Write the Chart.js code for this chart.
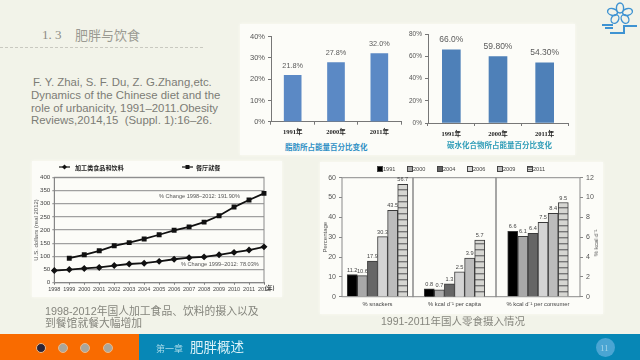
<!DOCTYPE html>
<html>
<head>
<meta charset="utf-8">
<title>1.3 肥胖与饮食</title>
<script src="https://cdn.jsdelivr.net/npm/chart.js"></script>
<style>
html, body { margin: 0; padding: 0; }
body { width: 640px; height: 360px; overflow: hidden; position: relative; background: #f2f3e9;
       font-family: "Liberation Sans", "Noto Sans CJK SC", sans-serif; }
.box { position: absolute; background: #fcfcf8; box-shadow: 0 0 3px #fbfbf5; }
canvas { position: absolute; }
.t { position: absolute; white-space: pre; line-height: 1; transform: translateY(-50%); }
.cn { font-family: "Noto Sans CJK SC", sans-serif; }
.rot { transform: translate(-50%, -50%) rotate(-90deg); }
.dot { position: absolute; width: 10px; height: 10px; border-radius: 50%; top: 342.5px; box-sizing: border-box; border: 1px solid #e9b98c; background: #a9a69c; }
</style>
</head>
<body>
<div class="box" style="left:240px;top:24px;width:335px;height:131px"></div>
<div class="box" style="left:32px;top:161px;width:250px;height:136px"></div>
<div class="box" style="left:320px;top:162px;width:283px;height:152px"></div>

<div class="t" style="left:42px;top:34px;font-size:13px;color:#8d8d85;font-family:'Liberation Serif','Noto Sans CJK SC'">1. 3</div>
<div class="t cn" style="left:75px;top:34px;font-size:13px;color:#9a9a92">肥胖与饮食</div>
<div style="position:absolute;left:0;top:47px;width:203px;border-top:1px dashed #c9c9c0"></div>

<div class="t" style="left:33px;top:83px;font-size:11.4px;color:#7c7c76">F. Y. Zhai, S. F. Du, Z. G.Zhang,etc.</div>
<div class="t" style="left:31px;top:96px;font-size:11.4px;color:#7c7c76">Dynamics of the Chinese diet and the</div>
<div class="t" style="left:31px;top:109px;font-size:11.4px;color:#7c7c76">role of urbanicity, 1991–2011.Obesity</div>
<div class="t" style="left:31px;top:121px;font-size:11.4px;color:#7c7c76">Reviews,2014,15  (Suppl. 1):16–26.</div>

<svg style="position:absolute;left:600px;top:0" width="40" height="38" viewBox="0 0 40 38" fill="none" stroke="#3f93d2" stroke-width="1.4">
  <ellipse cx="20" cy="8" rx="3.6" ry="5"/>
  <ellipse cx="12.5" cy="12" rx="5" ry="3.4" transform="rotate(15 12.5 12)"/>
  <ellipse cx="27.5" cy="12" rx="5" ry="3.4" transform="rotate(-15 27.5 12)"/>
  <ellipse cx="15" cy="19" rx="3.6" ry="4.6" transform="rotate(30 15 19)"/>
  <ellipse cx="25" cy="19" rx="3.6" ry="4.6" transform="rotate(-30 25 19)"/>
  <path d="M2 25H13M5 28H13M10 33H24V26H37" stroke-width="2"/>
</svg>

<canvas id="fatChart" width="165" height="115" style="left:240px;top:25px"></canvas>
<canvas id="carbChart" width="175" height="115" style="left:400px;top:25px"></canvas>
<div class="t cn" style="left:285px;top:147px;font-size:7.5px;color:#2f8fc4;font-weight:700">脂肪所占能量百分比变化</div>
<div class="t cn" style="left:447px;top:145px;font-size:7.5px;color:#2f9db8;font-weight:700">碳水化合物所占能量百分比变化</div>

<canvas id="foodChart" width="294" height="137" style="left:1px;top:160px"></canvas>
<div id="foodLegend"></div>
<div class="t" style="left:159px;top:196.7px;font-size:5.6px;color:#555">% Change 1998–2012: 191.90%</div>
<div class="t" style="left:181px;top:265px;font-size:5.6px;color:#555">% Change 1999–2012: 78.03%</div>
<div class="t cn" style="left:265px;top:288.5px;font-size:5.5px;font-weight:700;color:#333">(年)</div>

<canvas id="snackChart1" width="108" height="150" style="left:310px;top:165px"></canvas>
<canvas id="snackChart2" width="91" height="150" style="left:409px;top:165px"></canvas>
<canvas id="snackChart3" width="120" height="150" style="left:490px;top:165px"></canvas>
<div id="snackLegend"></div>
<div class="t rot" style="left:596px;top:243px;font-size:6px;color:#555">% kcal d⁻¹</div>

<div class="t" style="left:45px;top:311px;font-size:10.8px;color:#85857d">1998-2012年国人加工食品、饮料的摄入以及</div>
<div class="t" style="left:45px;top:323px;font-size:10.8px;color:#85857d">到餐馆就餐大幅增加</div>
<div class="t" style="left:381px;top:321px;font-size:10.5px;color:#85857d">1991-2011年国人零食摄入情况</div>

<div style="position:absolute;left:0;top:334px;width:139px;height:26px;background:#f96b00"></div>
<div style="position:absolute;left:139px;top:334px;width:501px;height:26px;background:#0787b6"></div>
<div class="dot" style="left:36px;background:#2a2438"></div>
<div class="dot" style="left:58px"></div>
<div class="dot" style="left:80px"></div>
<div class="dot" style="left:103px"></div>
<div class="t cn" style="left:156px;top:348px;font-size:9px;color:#a9dbe9">第一章</div>
<div class="t cn" style="left:190px;top:347px;font-size:13.5px;color:#dcf2f8">肥胖概述</div>
<div style="position:absolute;left:596px;top:338px;width:19px;height:19px;border-radius:50%;background:#4aa5d3"></div>
<div class="t" style="left:600px;top:348px;font-size:9px;color:#a5d5ea;font-family:'Liberation Serif'">11</div>

<script>
// values
var fatYears = ['1991年', '2000年', '2011年'];
var fatValues = [21.8, 27.8, 32.0];
var fatText = ['21.8%', '27.8%', '32.0%'];

var carbYears = ['1991年', '2000年', '2011年'];
var carbValues = [66.0, 59.8, 54.3];
var carbText = ['66.0%', '59.80%', '54.30%'];

var foodYears = ['1998', '1999', '2000', '2001', '2002', '2003', '2004', '2005', '2006', '2007', '2008', '2009', '2010', '2011', '2012'];
var foodNames = ['加工类食品和饮料', '餐厅就餐'];
var processedFood = [46, 50, 54, 58, 65, 71, 74, 81, 89, 95, 98, 106, 115, 124, 136];
var eatingOut = [null, 93, 106, 121, 140, 152, 166, 182, 199, 212, 230, 254, 287, 314, 339];

var snackYears = ['1991', '2000', '2004', '2006', '2009', '2011'];
var snackPercent = [11.2, 10.6, 17.9, 30.3, 43.5, 56.7];
var kcalPerCapita = [0.8, 0.7, 1.3, 2.5, 3.9, 5.7];
var kcalPerConsumer = [6.6, 6.1, 6.4, 7.5, 8.4, 9.5];

var sans = '"Liberation Sans", "Noto Sans CJK SC", sans-serif';
var serif = '"Liberation Serif", "Noto Sans CJK SC", serif';
Chart.defaults.font.family = sans;
Chart.defaults.animation = false;
Chart.defaults.responsive = false;
Chart.defaults.plugins.legend.display = false;
Chart.defaults.plugins.tooltip.enabled = false;

// text over the bars, and a box round the plot
var barText = {
    id: 'barText',
    afterDatasetsDraw: function(chart, args, opts) {
        if (!opts.size) return;
        var ctx = chart.ctx;
        ctx.save();
        ctx.font = opts.size + 'px ' + sans;
        ctx.fillStyle = opts.color;
        ctx.textAlign = 'center';
        ctx.textBaseline = 'middle';
        chart.data.datasets.forEach(function(ds, d) {
            chart.getDatasetMeta(d).data.forEach(function(bar, i) {
                var txt = ds.text ? ds.text[i] : String(ds.data[i]);
                ctx.fillText(txt, bar.x, bar.y - opts.gap);
            });
        });
        ctx.restore();
    }
};
var plotFrame = {
    id: 'plotFrame',
    beforeDatasetsDraw: function(chart, args, opts) {
        if (!opts.color) return;
        var a = chart.chartArea;
        chart.ctx.save();
        chart.ctx.strokeStyle = opts.color;
        chart.ctx.lineWidth = opts.width || 1;
        chart.ctx.strokeRect(a.left, a.top, a.right - a.left, a.bottom - a.top);
        chart.ctx.restore();
    }
};
Chart.register(barText, plotFrame);

function fixWidth(w) { return function(s) { s.width = w; }; }
function fixHeight(h) { return function(s) { s.height = h; }; }

function percentBars(id, labels, values, text, o) {
    new Chart(document.getElementById(id), {
        type: 'bar',
        data: {
            labels: labels,
            datasets: [{ data: values, text: text, backgroundColor: o.color, barThickness: o.bar }]
        },
        options: {
            layout: { autoPadding: false, padding: { top: o.top, right: o.right } },
            plugins: { barText: { size: o.textSize, color: '#5a5a5a', gap: o.gap } },
            scales: {
                x: {
                    afterFit: fixHeight(o.xHeight),
                    grid: { drawOnChartArea: false, tickLength: 3, color: '#777' },
                    border: { color: '#777' },
                    ticks: { padding: 4, maxRotation: 0, color: '#222', font: { family: serif, size: 6.5, weight: 'bold' } }
                },
                y: {
                    min: 0, max: o.max,
                    afterFit: fixWidth(o.yWidth),
                    grid: { drawOnChartArea: false, tickLength: 3, color: '#777' },
                    border: { color: '#777' },
                    ticks: { stepSize: o.step, padding: 3, color: '#555', font: { size: o.tickSize }, callback: function(v) { return v + '%'; } }
                }
            }
        }
    });
}
percentBars('fatChart', fatYears, fatValues, fatText, { color: '#5b89c5', bar: 17, max: 40, step: 10, top: 11.7, right: 4, xHeight: 18.3, yWidth: 31, tickSize: 7.5, textSize: 7.3, gap: 9.5 });
percentBars('carbChart', carbYears, carbValues, carbText, { color: '#4e80b8', bar: 18, max: 80, step: 20, top: 9.3, right: 7, xHeight: 17, yWidth: 28, tickSize: 6.5, textSize: 8.5, gap: 10 });

new Chart(document.getElementById('foodChart'), {
    type: 'line',
    data: {
        labels: foodYears,
        datasets: [
            { label: foodNames[0], data: processedFood, borderColor: '#111', backgroundColor: '#111', borderWidth: 1.8, pointStyle: 'rectRot', pointRadius: 2.2 },
            { label: foodNames[1], data: eatingOut, borderColor: '#111', backgroundColor: '#111', borderWidth: 1.8, pointStyle: 'rect', pointRadius: 2.2 }
        ]
    },
    options: {
        layout: { autoPadding: false, padding: { top: 17.3, right: 31 } },
        plugins: { plotFrame: { color: '#8a8a8a', width: 1 } },
        scales: {
            x: {
                afterFit: fixHeight(14.3),
                grid: { drawOnChartArea: false, tickLength: 2, color: '#777' },
                border: { color: '#777' },
                ticks: { padding: 1, maxRotation: 0, autoSkip: false, color: '#444', font: { size: 5.5 } }
            },
            y: {
                min: 0, max: 400,
                afterFit: fixWidth(53.3),
                title: { display: true, text: 'U.S. dollars (real 2012)', color: '#555', font: { size: 6 }, padding: { top: 31.4, bottom: 0 } },
                grid: { color: '#a0a0a0', lineWidth: 1.2, tickLength: 2 },
                border: { color: '#777' },
                ticks: { stepSize: 50, padding: 2, color: '#444', font: { size: 6.2 } }
            }
        }
    }
});

// six bars per panel, the last one striped
function stripes() {
    var c = document.createElement('canvas');
    c.width = 4; c.height = 6;
    var g = c.getContext('2d');
    g.fillStyle = '#d6d6d2'; g.fillRect(0, 0, 4, 6);
    g.fillStyle = '#777'; g.fillRect(0, 0, 4, 1.4);
    return g.createPattern(c, 'repeat');
}
var snackFill = ['#000000', '#a8a8a8', '#666666', '#d4d4d4', '#bcbcbc', stripes()];

function snackPanel(id, label, values, o) {
    var showAxis = !!o.axis;
    var y = {
        min: 0, max: o.max, position: o.axis || 'left',
        afterFit: fixWidth(o.yWidth || 0),
        grid: { display: showAxis, drawOnChartArea: false, tickLength: 3, color: '#888' },
        border: { display: false },
        ticks: { display: showAxis, stepSize: o.max / 6, padding: 3, color: '#555', font: { size: 7 } }
    };
    if (o.title) y.title = { display: true, text: o.title, color: '#555', font: { size: 6 }, padding: { top: 11.4, bottom: 0 } };
    new Chart(document.getElementById(id), {
        type: 'bar',
        data: {
            labels: [label],
            datasets: values.map(function(v, i) {
                return { label: snackYears[i], data: [v], backgroundColor: snackFill[i], borderColor: '#3a3a3a', borderWidth: 1, barThickness: 10.1 };
            })
        },
        options: {
            layout: { autoPadding: false, padding: { top: 12.7, left: o.left || 0, right: o.right || 0 } },
            plugins: { barText: { size: 5.6, color: '#444', gap: 4.5 }, plotFrame: { color: '#8a8a8a', width: 1 } },
            scales: {
                x: {
                    afterFit: fixHeight(18.3),
                    grid: { drawOnChartArea: false, tickLength: 1, color: 'rgba(0,0,0,0)' },
                    border: { display: false },
                    ticks: { padding: 3, maxRotation: 0, autoSkip: false, color: '#444', font: { size: 5.8 } }
                },
                y: y
            }
        }
    });
}
snackPanel('snackChart1', '% snackers', snackPercent, { max: 60, axis: 'left', yWidth: 32, right: 5, title: 'Percentage' });
snackPanel('snackChart2', '% kcal d⁻¹ per capita', kcalPerCapita, { max: 12, left: 4, right: 4 });
snackPanel('snackChart3', '% kcal d⁻¹ per consumer', kcalPerConsumer, { max: 12, axis: 'right', yWidth: 30, left: 6 });

// legends sit above the plots, wider apart than the library's own would
function legendItem(parent, x, y, swatch, text, css) {
    var d = document.createElement('div');
    d.style.cssText = 'position:absolute;left:' + x + 'px;top:' + (y - 5) + 'px;height:10px;display:flex;align-items:center;white-space:pre;' + css;
    d.innerHTML = swatch + '<span>' + text + '</span>';
    parent.appendChild(d);
}
var foodMarks = [
    '<svg width="11" height="6" style="margin-right:5px"><path d="M0 3H11" stroke="#111" stroke-width="1.2"/><path d="M5.5 0.6L8 3L5.5 5.4L3 3Z" fill="#111"/></svg>',
    '<svg width="11" height="6" style="margin-right:3px"><path d="M0 3H11" stroke="#111" stroke-width="1.2"/><rect x="3.5" y="1" width="4" height="4" fill="#111"/></svg>'
];
var foodLegendX = [59, 182];
foodNames.forEach(function(name, i) {
    legendItem(document.getElementById('foodLegend'), foodLegendX[i], 167, foodMarks[i], name,
        'font:700 6.1px "Noto Sans CJK SC";color:#222');
});
var snackSwatch = ['#000', '#a8a8a8', '#666', '#d4d4d4', '#bcbcbc', 'repeating-linear-gradient(#777 0 1px,#d6d6d2 1px 2px)'];
snackYears.forEach(function(year, i) {
    legendItem(document.getElementById('snackLegend'), 378 + i * 30, 169,
        '<i style="width:4px;height:4px;margin-right:1px;box-sizing:border-box;background:' + snackSwatch[i] + ';outline:0.5px solid #444"></i>',
        year, 'font:5.6px "Liberation Sans";color:#444');
});
</script>
</body>
</html>
